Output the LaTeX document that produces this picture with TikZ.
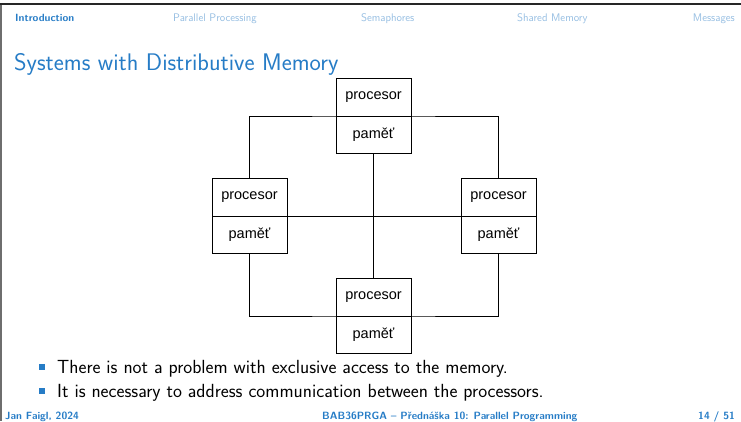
\documentclass[tikz,border=0pt]{standalone}
\usepackage{fontspec}
\usetikzlibrary{positioning}
\newfontfamily\boxfont{Liberation Sans}
\definecolor{structblue}{RGB}{38,124,198}
\definecolor{navfade}{RGB}{150,190,226}
\definecolor{framegray}{RGB}{110,110,110}

\begin{document}
\begin{tikzpicture}[x=1pt,y=-1pt,
  cell/.style={draw, line width=0.9pt, fill=white, outer sep=0pt, inner sep=0pt,
    minimum width=75pt, minimum height=37.5pt,
    font=\boxfont\fontsize{14.5}{16}\selectfont},
  bus/.style={line width=0.9pt},
  nav/.style={anchor=base west, inner sep=0pt, text=navfade,
    font=\sffamily\fontsize{11}{13}\selectfont},
  foot/.style={inner sep=0pt, text=structblue,
    font=\sffamily\bfseries\fontsize{10.5}{12}\selectfont},
  item/.style={anchor=base west, inner sep=0pt,
    font=\sffamily\fontsize{19}{22}\selectfont},
  bulletsq/.style={fill=structblue, inner sep=0pt, minimum size=6pt}
]
  \useasboundingbox (0,0) rectangle (741,421);

  % Frame edges
  \draw[line width=1.5pt, black!85] (0,4) -- (741,4);
  \draw[line width=1.2pt, framegray] (1,5) -- (1,421);

  % Navigation bar
  \node[nav, text=structblue, font=\sffamily\bfseries\fontsize{10.5}{13}\selectfont] (navintro) at (15,21) {Introduction};
  \node[nav] (navpar) at (173,21) {Parallel Processing};
  \node[nav] (navsem) at (361,21) {Semaphores};
  \node[nav] (navshm) at (517,21) {Shared Memory};
  \node[nav, anchor=base east] (navmsg) at (735,21) {Messages};

  % Frame title
  \node[anchor=base west, inner sep=0pt, text=structblue,
    font=\sffamily\fontsize{24}{28}\selectfont] (title) at (14,70) {Systems with Distributive Memory};

  % Processors with memories
  \node[cell] (ptop) at (373.5,97.25) {procesor};
  \node[cell, below=0pt of ptop] (mtop) {paměť};
  \node[cell] (pleft) at (249.5,197.25) {procesor};
  \node[cell, below=0pt of pleft] (mleft) {paměť};
  \node[cell] (pright) at (498.5,197.25) {procesor};
  \node[cell, below=0pt of pright] (mright) {paměť};
  \node[cell] (pbot) at (373.5,297.25) {procesor};
  \node[cell, below=0pt of pbot] (mbot) {paměť};

  % Interconnection
  \draw[bus] (pleft.north) |- (ptop.south) -| (pright.north);
  \draw[bus] (mleft.south) |- (pbot.south) -| (mright.south);
  \draw[bus] (pleft.south east) -- (pright.south west);
  \draw[bus] (mtop.south) -- (pbot.north);

  % Items
  \node[bulletsq] (bul1) at (42,367) {};
  \node[item] (item1) at (57,373) {There is not a problem with exclusive access to the memory.};
  \node[bulletsq] (bul2) at (42,391) {};
  \node[item] (item2) at (57,397) {It is necessary to address communication between the processors.};

  % Footline
  \node[foot, anchor=base west] (author) at (5,419) {Jan Faigl, 2024};
  \node[foot, anchor=base west] (lecture) at (322,419) {BAB36PRGA – Přednáška 10: Parallel Programming};
  \node[foot, anchor=base east] (page) at (735,419) {14 / 51};
\end{tikzpicture}
\end{document}
